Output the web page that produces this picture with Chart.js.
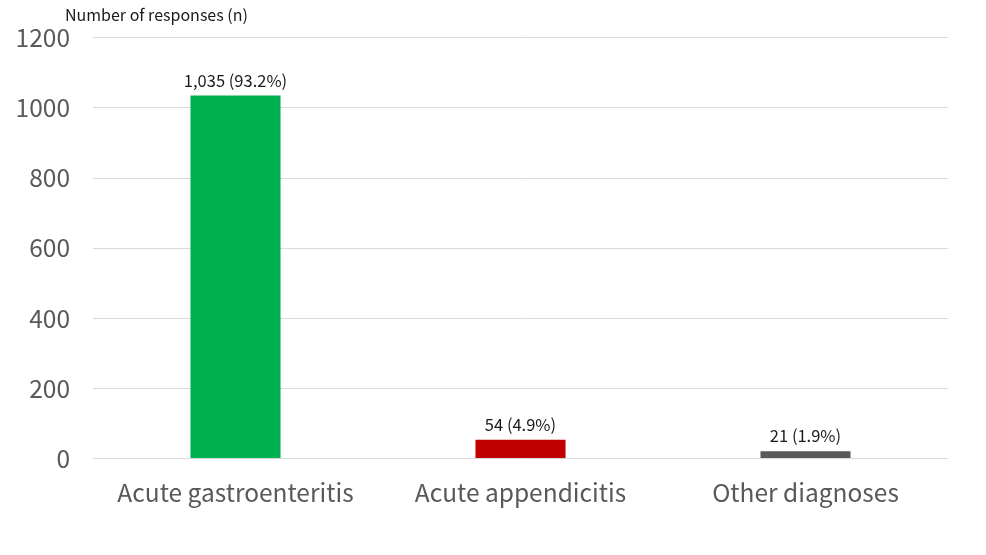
<!DOCTYPE html>
<html>
<head>
<meta charset="utf-8">
<script src="https://cdn.jsdelivr.net/npm/chart.js@4"></script>
<style>
  html, body { margin: 0; padding: 0; background: #fff; }
  #wrap { width: 986px; height: 555px; }
</style>
</head>
<body>
<div id="wrap"><canvas id="grafica"></canvas></div>
<script>
var categorias = ["Acute gastroenteritis", "Acute appendicitis", "Other diagnoses"];
var respuestas = [1035, 54, 21];
var porcentajes = [93.2, 4.9, 1.9];
var colores = ["#00B050", "#C00000", "#595959"];
var ticksY = [0, 200, 400, 600, 800, 1000, 1200];
var tituloY = "Number of responses (n)";

var fuente = "'Noto Sans CJK JP', 'Noto Sans', sans-serif";

// etiquetas encima de cada barra y titulo del eje
var etiquetasBarras = {
  id: "etiquetasBarras",
  afterDatasetsDraw: function(chart) {
    var ctx = chart.ctx;
    var meta = chart.getDatasetMeta(0);
    ctx.save();
    ctx.font = "16.5px " + fuente;
    ctx.fillStyle = "#1a1a1a";
    ctx.textAlign = "center";
    ctx.textBaseline = "bottom";
    meta.data.forEach(function(barra, i) {
      var txt = respuestas[i].toLocaleString("en-US") + " (" + porcentajes[i].toFixed(1) + "%)";
      ctx.fillText(txt, barra.x, barra.y - 7);
    });
    ctx.font = "16px " + fuente;
    ctx.textAlign = "left";
    ctx.textBaseline = "middle";
    ctx.fillText(tituloY, 65, 15);
    ctx.restore();
  }
};

var contexto = document.getElementById("grafica");
var grafica = new Chart(contexto, {
  type: "bar",
  data: {
    labels: categorias,
    datasets: [{
      data: respuestas,
      backgroundColor: colores,
      borderWidth: 0,
      categoryPercentage: 1,
      barPercentage: 0.316
    }]
  },
  options: {
    responsive: true,
    maintainAspectRatio: false,
    animation: false,
    layout: { padding: { left: 13, right: 38, top: 37, bottom: 37 } },
    plugins: {
      legend: { display: false },
      tooltip: { enabled: false }
    },
    scales: {
      x: {
        grid: { display: false },
        border: { display: false },
        ticks: {
          color: "#595959",
          font: { family: fuente, size: 24.5 },
          padding: 11
        }
      },
      y: {
        min: 0,
        max: 1200,
        afterFit: function(scale) { scale.width = 80; },
        afterBuildTicks: function(scale) {
          scale.ticks = ticksY.map(function(v) { return { value: v }; });
        },
        grid: { color: "#d9d9d9", lineWidth: 1, drawTicks: false },
        border: { display: false },
        ticks: {
          color: "#595959",
          font: { family: fuente, size: 24.5 },
          padding: 23,
          callback: function(v) { return String(v); }
        }
      }
    }
  },
  plugins: [etiquetasBarras]
});
</script>
</body>
</html>
